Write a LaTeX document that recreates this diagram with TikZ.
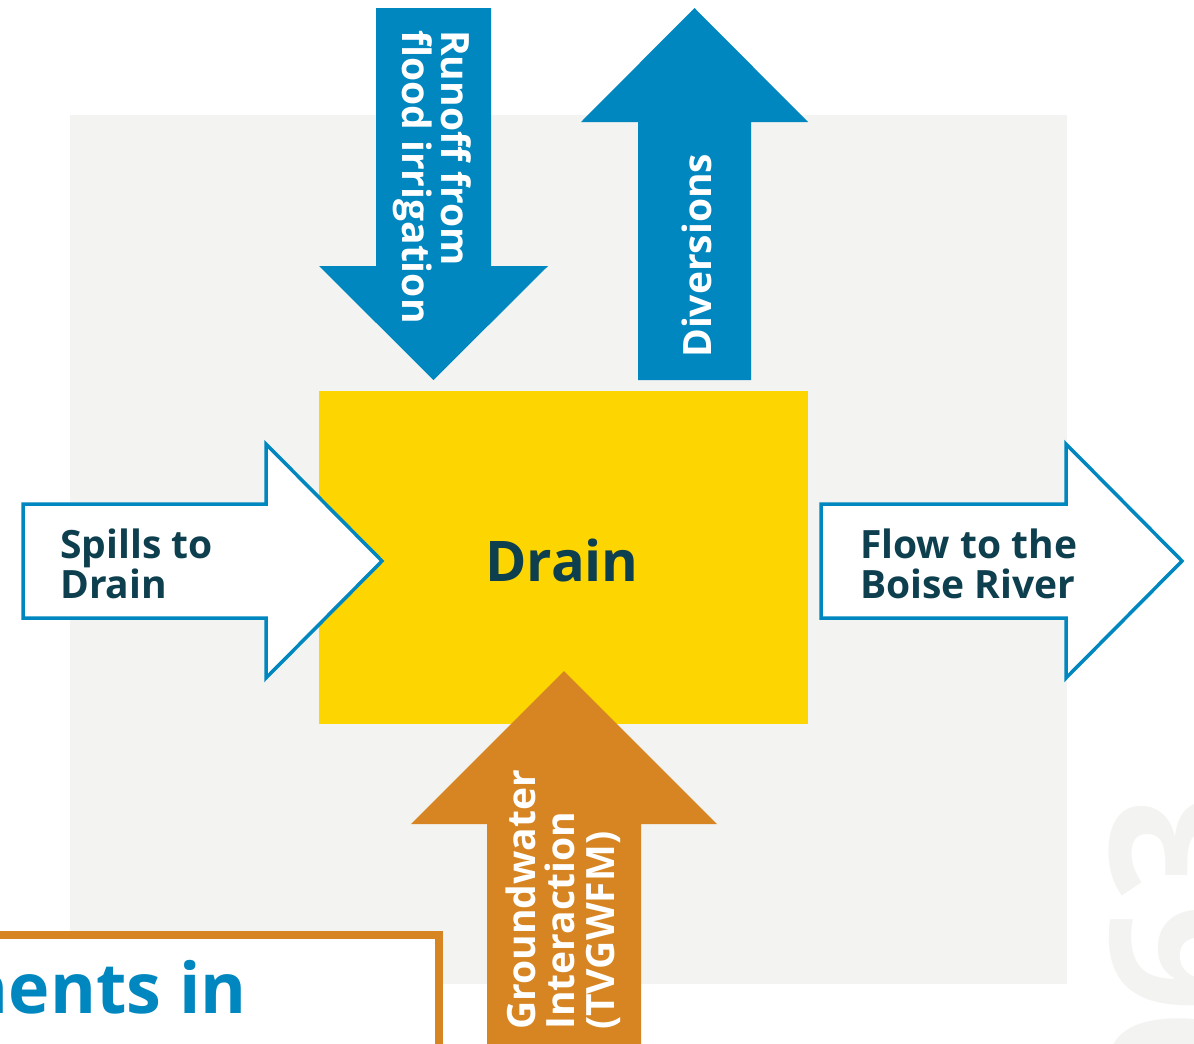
\documentclass[tikz,border=0pt]{standalone}
\usepackage{fontspec}
\setmainfont{Open Sans}
\usetikzlibrary{positioning}

\definecolor{riverblue}{RGB}{0,135,192}
\definecolor{drainyellow}{RGB}{253,213,0}
\definecolor{gwochre}{RGB}{214,133,34}
\definecolor{panelgray}{RGB}{243,243,241}
\definecolor{inkteal}{RGB}{13,63,78}

\tikzset{
	flowtext/.style={inner sep=0pt, align=left, font=\bfseries\fontsize{39}{39.5}\selectfont},
	outflow/.style={draw=riverblue, line width=3.5pt, fill=white, line join=miter},
}

\begin{document}
\begin{tikzpicture}[x=1pt, y=-1pt]
	\useasboundingbox (0,0) rectangle (1194,1044);
	\clip (0,0) rectangle (1194,1044);
	\fill [panelgray] (70,115) rectangle (1067,984);
	\node (mark) [rotate=90, anchor=base east, inner sep=0pt, text=panelgray, font=\bfseries\fontsize{190}{190}\selectfont] at (1246,795) {063};

	\fill [drainyellow] (319,391) rectangle (808,724);
	\node (drain) [inner sep=0pt, text=inkteal, font=\bfseries\fontsize{56}{56}\selectfont] at (562,560) {Drain};

	% water coming in from the fields above, and taken out again
	\fill [riverblue] (376,8) -- (491,8) -- (491,266) -- (548,266) -- (433.5,380) -- (319,266) -- (376,266) -- cycle;
	\node (runoff) [flowtext, rotate=-90, anchor=west, text=white] at (432,30) {Runoff from\\flood irrigation};
	\fill [riverblue] (638,380) -- (751,380) -- (751,122) -- (808,122) -- (694.5,8) -- (581,122) -- (638,122) -- cycle;
	\node (diversions) [flowtext, rotate=90, anchor=west, text=white] at (697,358) {Diversions};

	% side flows
	\draw [outflow] (23,504) -- (266,504) -- (266,444) -- (382,561) -- (266,678) -- (266,618) -- (23,618) -- cycle;
	\node (spills) [flowtext, anchor=west, text=inkteal] at (60,564) {Spills to\\Drain};
	\draw [outflow] (821,504) -- (1066,504) -- (1066,444) -- (1182,561) -- (1066,678) -- (1066,618) -- (821,618) -- cycle;
	\node (outlet) [flowtext, anchor=west, text=inkteal] at (860,564) {Flow to the\\Boise River};

	\fill [gwochre] (487,1060) -- (487,824) -- (411,824) -- (564,671) -- (717,824) -- (641,824) -- (641,1060) -- cycle;
	\node (groundwater) [flowtext, rotate=90, anchor=west, text=white] at (563,1030) {Groundwater\\Interaction\\(TVGWFM)};

	\draw [gwochre, line width=8pt, fill=white] (-10,935) rectangle (439,1070);
	\node (title) [inner sep=0pt, anchor=base east, text=riverblue, font=\bfseries\fontsize{70}{70}\selectfont] at (247,1013) {Components in};
\end{tikzpicture}
\end{document}
